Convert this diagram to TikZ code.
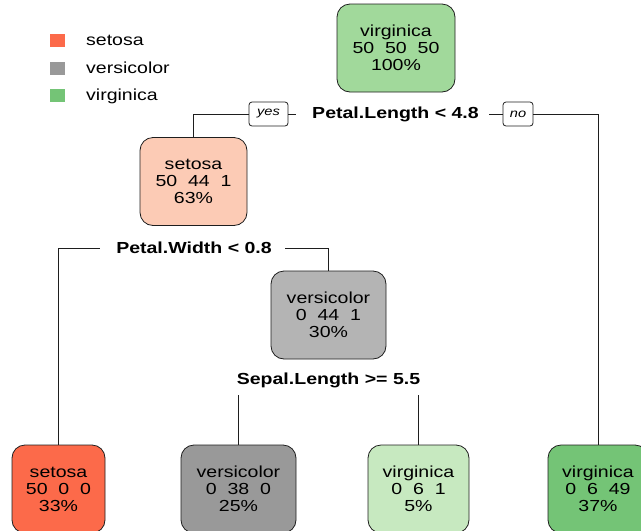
\documentclass[tikz,border=0pt]{standalone}
\usepackage{fontspec}
\setmainfont[FakeStretch=1.22]{Liberation Sans}
\definecolor{rootgreen}{HTML}{A1D99B}
\definecolor{peach}{HTML}{FCCBB5}
\definecolor{midgray}{HTML}{B4B4B4}
\definecolor{setred}{HTML}{FC6A4A}
\definecolor{versgray}{HTML}{999999}
\definecolor{palegreen}{HTML}{C7E9C0}
\definecolor{virgreen}{HTML}{74C476}
\definecolor{inkline}{HTML}{1E1E1E}
\begin{document}
\begin{tikzpicture}[x=1pt,y=-1pt,
  tree/.style={draw=inkline, line width=0.8pt, rounded corners=13pt,
    minimum height=88pt, inner sep=0pt, align=center,
    font=\fontsize{16}{17}\selectfont, text=black},
  split/.style={font=\bfseries\fontsize{16}{17}\selectfont, inner sep=0pt,
    minimum height=30pt},
  tag/.style={draw=inkline, line width=0.8pt, rounded corners=3pt,
    font=\itshape\fontsize{12}{13}\selectfont, minimum height=24pt, inner sep=0pt},
  edge/.style={draw=inkline, line width=0.8pt},
  key/.style={minimum width=15pt, minimum height=13pt, inner sep=0pt},
  keytext/.style={anchor=base west, font=\fontsize{16}{17}\selectfont, inner sep=0pt}]

\useasboundingbox (0,0) rectangle (641,531);
\clip (0,0) rectangle (641,531);

% legend
\node[key, fill=setred] (k1) at (57.5,40.5) {};
\node[key, fill=versgray] (k2) at (57.5,68) {};
\node[key, fill=virgreen] (k3) at (57.5,95) {};
\node[keytext] (t1) at (86,45.5) {setosa};
\node[keytext] (t2) at (86,73) {versicolor};
\node[keytext] (t3) at (86,100) {virginica};

% tree nodes
\node[tree, fill=rootgreen, minimum width=118pt] (n1) at (396,48) {virginica\\50~~50~~50\\100\%};
\node[tree, fill=peach, minimum width=107pt] (n2) at (193.5,181.5) {setosa\\50~~44~~1\\63\%};
\node[tree, fill=midgray, minimum width=115pt] (n3) at (328.5,315) {versicolor\\0~~44~~1\\30\%};
\node[tree, fill=setred, minimum width=93pt] (n4) at (58.5,489) {setosa\\50~~0~~0\\33\%};
\node[tree, fill=versgray, minimum width=115pt] (n6) at (238.5,489) {versicolor\\0~~38~~0\\25\%};
\node[tree, fill=palegreen, minimum width=101pt] (n7) at (418.5,489) {virginica\\0~~6~~1\\5\%};
\node[tree, fill=virgreen, minimum width=100pt] (n5) at (598,489) {virginica\\0~~6~~49\\37\%};

% split labels
\node[split, minimum width=193pt] (s1) at (392.5,114) {\hspace*{6pt}Petal.Length < 4.8};
\node[tag, minimum width=39pt] (yes) at (268.5,114) {yes};
\node[tag, minimum width=30pt] (no) at (518,114) {no};
\node[split, minimum width=185pt] (s2) at (192.5,248) {\hspace*{3pt}Petal.Width < 0.8};
\node[split, minimum width=200pt] (s3) at (328.5,380) {Sepal.Length >= 5.5};

% branches
\draw[edge] (n2.north) |- (yes.west);
\draw[edge] (yes.east) -- (s1.west);
\draw[edge] (s1.east) -- (no.west);
\draw[edge] (no.east) -| (n5.north);
\draw[edge] (n4.north) |- (s2.west);
\draw[edge] (s2.east) -| (n3.north);
\draw[edge] (s3.south -| n6.north) -- (n6.north);
\draw[edge] (s3.south -| n7.north) -- (n7.north);
\end{tikzpicture}
\end{document}
